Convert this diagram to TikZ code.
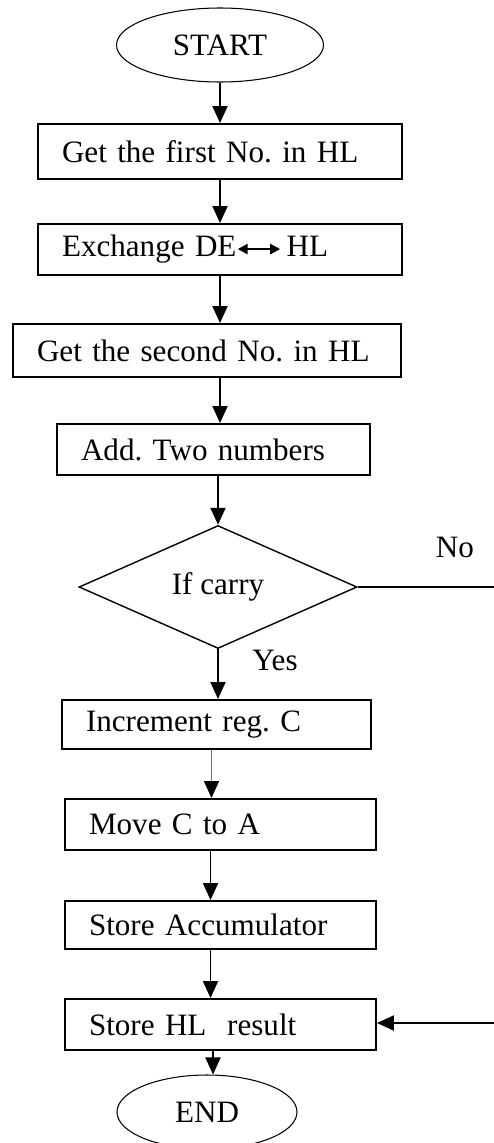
\documentclass[tikz,border=0pt]{standalone}
\usepackage{fontspec}
\setmainfont{Liberation Serif}
\usepackage{tikz}
\usetikzlibrary{shapes.geometric,arrows.meta}

\tikzset{
  procbox/.style={draw, line width=1.1pt, inner xsep=0.48cm, inner ysep=0pt,
    align=left, text width=#1},
  terminal/.style={ellipse, draw, line width=0.6pt, minimum width=#1,
    minimum height=1.48cm, inner sep=0pt},
  decision/.style={diamond, draw, line width=0.8pt, minimum width=5.56cm,
    minimum height=2.46cm, inner sep=0pt},
  flowline/.style={line width=1.1pt},
  flowarrow/.style={line width=1.1pt,
    -{Triangle[length=0.34cm,width=0.3cm]}},
  thinarrow/.style={line width=0.8pt, black!55,
    -{Triangle[length=0.34cm,width=0.3cm,black]}},
}
\newcommand{\swaparrow}{\tikz[baseline=-0.55ex]\draw[line width=1.4pt,
  {Triangle[length=0.2cm,width=0.2cm]}-{Triangle[length=0.2cm,width=0.2cm]}] (0,0) -- (0.85,0);}

\begin{document}
\frenchspacing
\begin{tikzpicture}[font=\fontsize{17.7}{20}\selectfont]
      \useasboundingbox (0,0) rectangle (9.88,-22.86);
      \node[terminal=4.14cm] (start) at (4.40,-0.90) {START};
      \node[procbox=6.32cm, minimum height=1.10cm] (getfirst) at (4.40,-3.03) {Get the first No. in HL};
      \node[procbox=6.32cm, minimum height=1.02cm] (exchange) at (4.40,-4.99) {Exchange DE\swaparrow\,HL};
      \node[procbox=6.80cm, minimum height=1.06cm] (getsecond) at (4.14,-7.01) {Get the second No. in HL};
      \node[procbox=5.30cm, minimum height=1.02cm] (addnums) at (4.27,-8.99) {Add. Two numbers};
      \node[decision] (ifcarry) at (4.36,-11.74) {If carry};
      \node[procbox=5.22cm, minimum height=0.98cm] (incc) at (4.33,-14.49) {Increment reg. C};
      \node[procbox=5.26cm, minimum height=1.02cm] (movec) at (4.41,-16.49) {Move C to A};
      \node[procbox=5.26cm, minimum height=0.96cm] (storeacc) at (4.41,-18.50) {Store Accumulator};
      \node[procbox=5.26cm, minimum height=1.02cm] (storehl) at (4.41,-20.49) {Store HL~ result};
      \node[terminal=3.60cm] (stop) at (4.14,-22.24) {END};
      \node (nolabel) at (9.10,-10.94) {No};
      \node (yeslabel) at (5.50,-13.20) {Yes};
      \coordinate (noend) at (9.88,-11.74);
      \coordinate (noback) at (9.88,-20.46);

      \draw[flowarrow] (start) -- (getfirst);
      \draw[flowarrow] (getfirst) -- (exchange);
      \draw[flowarrow] (exchange.south) -- (exchange.south |- getsecond.north);
      \draw[flowarrow] (exchange.south |- getsecond.south) -- (exchange.south |- addnums.north);
      \draw[flowarrow] (addnums.south -| ifcarry.north) -- (ifcarry.north);
      \draw[flowarrow] (ifcarry.south) -- (ifcarry.south |- incc.north);
      \draw[thinarrow] ([xshift=-0.1cm]incc.south) -- ([xshift=-0.1cm]incc.south |- movec.north);
      \draw[flowarrow] ([xshift=-0.2cm]movec.south) -- ([xshift=-0.2cm]movec.south |- storeacc.north);
      \draw[flowarrow] ([xshift=-0.2cm]storeacc.south) -- ([xshift=-0.2cm]storeacc.south |- storehl.north);
      \draw[flowarrow] ([xshift=-0.15cm]storehl.south) -- ([xshift=-0.15cm]storehl.south |- stop.north);
      \draw[flowline] (ifcarry.east) -- (noend);
      \draw[flowarrow] (noback) -- (noback -| storehl.east);
\end{tikzpicture}
\end{document}
